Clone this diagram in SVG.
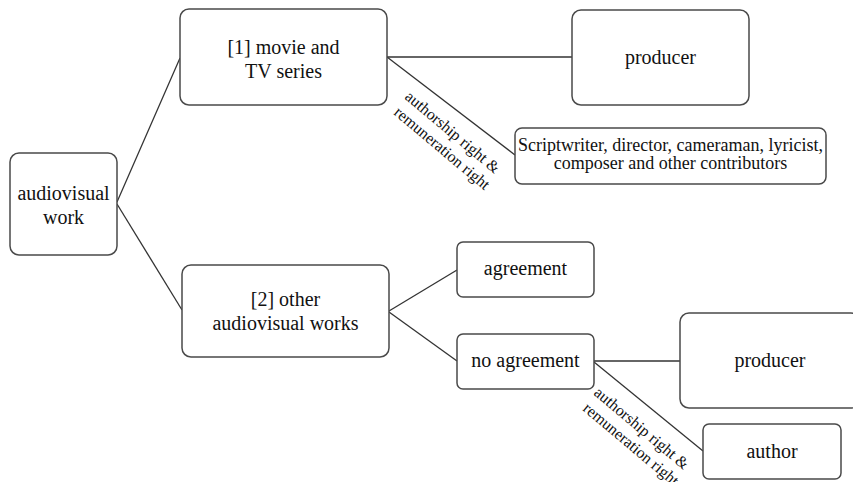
<svg xmlns="http://www.w3.org/2000/svg" width="853" height="482" viewBox="0 0 853 482">
  <style>
    .box { fill: #ffffff; stroke: #4a4a4a; stroke-width: 1.5; }
    .edge { fill: none; stroke: #333333; stroke-width: 1.3; }
    text { font-family: 'Liberation Serif', Tinos, 'Times New Roman', 'DejaVu Serif', serif; fill: #111111; text-anchor: middle; }
    .lg { font-size: 20px; }
    .md { font-size: 18px; }
    .sm { font-size: 16px; }
  </style>
  <rect width="853" height="482" fill="#ffffff"/>

  <!-- connectors -->
  <g id="connectors">
    <line class="edge" x1="117" y1="202" x2="180" y2="58"/>
    <line class="edge" x1="117" y1="204" x2="182" y2="310"/>
    <line class="edge" x1="387" y1="57" x2="572" y2="57"/>
    <line class="edge" x1="387" y1="57" x2="515" y2="155"/>
    <line class="edge" x1="389" y1="311" x2="457" y2="270"/>
    <line class="edge" x1="389" y1="312" x2="457" y2="361"/>
    <line class="edge" x1="594" y1="361" x2="680" y2="361"/>
    <line class="edge" x1="594" y1="362" x2="703" y2="451"/>
    <!-- edge labels -->
    <text class="sm" transform="translate(448,141) rotate(40)">
      <tspan x="0" y="-4.5">authorship right &amp;</tspan>
      <tspan x="0" y="14.5">remuneration right</tspan>
    </text>
    <text class="sm" transform="translate(637,437) rotate(40)">
      <tspan x="0" y="-4.5">authorship right &amp;</tspan>
      <tspan x="0" y="14.5">remuneration right</tspan>
    </text>
  </g>

  <g id="audiovisual-work">
    <rect class="box" x="10" y="153" width="107" height="102" rx="9"/>
    <text class="lg" x="63.5" y="200">audiovisual</text>
    <text class="lg" x="63.5" y="224">work</text>
  </g>

  <g id="movie-tv">
    <rect class="box" x="180" y="9" width="207" height="96" rx="9"/>
    <text class="lg" x="283.5" y="54">[1] movie and</text>
    <text class="lg" x="283.5" y="78">TV series</text>
  </g>

  <g id="producer-1">
    <rect class="box" x="572" y="10" width="177" height="95" rx="9"/>
    <text class="lg" x="660.5" y="64">producer</text>
  </g>

  <g id="contributors">
    <rect class="box" x="515" y="128" width="311" height="56" rx="7"/>
    <text class="md" x="670.5" y="151">Scriptwriter, director, cameraman, lyricist,</text>
    <text class="md" x="670.5" y="169">composer and other contributors</text>
  </g>

  <g id="other-works">
    <rect class="box" x="182" y="265" width="207" height="92" rx="9"/>
    <text class="lg" x="285.5" y="306">[2] other</text>
    <text class="lg" x="285.5" y="330">audiovisual works</text>
  </g>

  <g id="agreement">
    <rect class="box" x="457" y="242" width="137" height="55" rx="6"/>
    <text class="lg" x="525.5" y="275">agreement</text>
  </g>

  <g id="no-agreement">
    <rect class="box" x="457" y="334" width="137" height="55" rx="6"/>
    <text class="lg" x="525.5" y="367">no agreement</text>
  </g>

  <g id="producer-2">
    <rect class="box" x="680" y="313" width="180" height="95" rx="9"/>
    <text class="lg" x="770" y="367">producer</text>
  </g>

  <g id="author">
    <rect class="box" x="703" y="424" width="138" height="55" rx="6"/>
    <text class="lg" x="772" y="458">author</text>
  </g>
</svg>
